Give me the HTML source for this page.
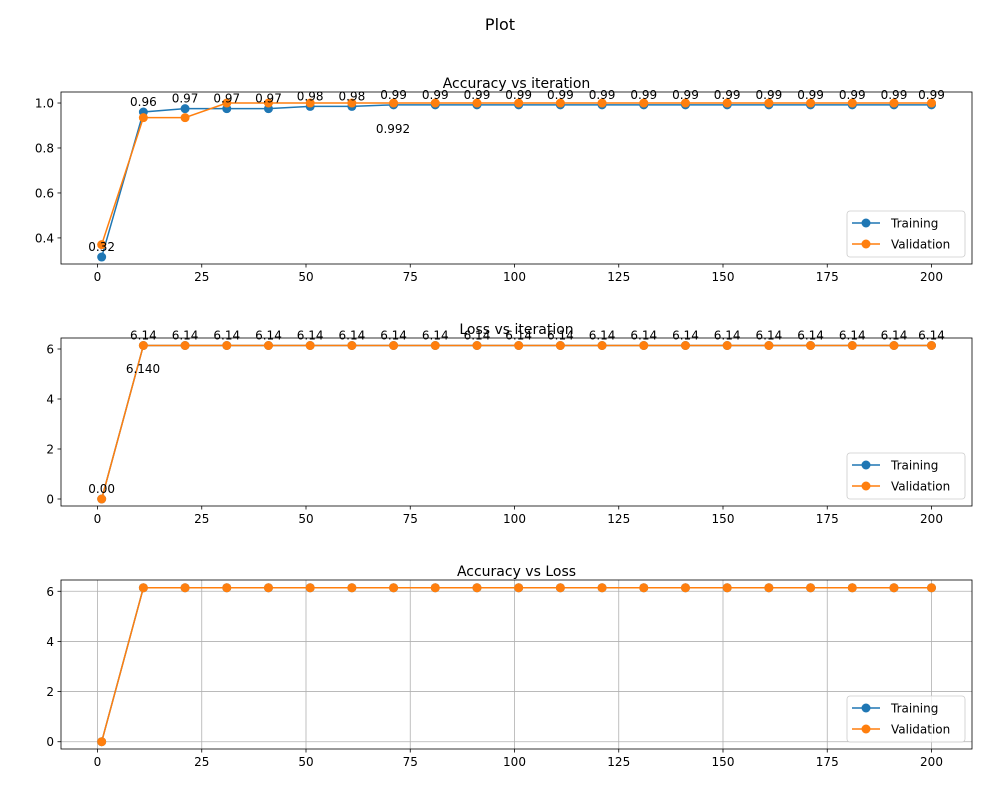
<!DOCTYPE html>
<html><head><meta charset="utf-8"><style>
body{margin:0;background:#fff}
svg{display:block;font-family:"DejaVu Sans","Liberation Sans",sans-serif}
</style></head><body>
<svg id="fig" width="1000" height="800" viewBox="0 0 1000 800">
<rect width="1000" height="800" fill="#fff"/>
<text x="500" y="30" font-size="16" text-anchor="middle">Plot</text>
</svg>
<script>
const iterations=[1,11,21,31,41,51,61,71,81,91,101,111,121,131,141,151,161,171,181,191,200];
const accTrain=[0.315,0.96,0.975,0.975,0.975,0.985,0.985,0.992,0.992,0.992,0.992,0.992,0.992,0.992,0.992,0.992,0.992,0.992,0.992,0.992,0.992];
const accVal=[0.37,0.935,0.935,1.0,1.0,1.0,1.0,1.0,1.0,1.0,1.0,1.0,1.0,1.0,1.0,1.0,1.0,1.0,1.0,1.0,1.0];
const lossTrain=[0,6.14,6.14,6.14,6.14,6.14,6.14,6.14,6.14,6.14,6.14,6.14,6.14,6.14,6.14,6.14,6.14,6.14,6.14,6.14,6.14];
const lossVal=[0,6.14,6.14,6.14,6.14,6.14,6.14,6.14,6.14,6.14,6.14,6.14,6.14,6.14,6.14,6.14,6.14,6.14,6.14,6.14,6.14];
const xTicks=[0,25,50,75,100,125,150,175,200];
const accYTicks=[0.4,0.6,0.8,1.0];
const lossYTicks=[0,2,4,6];

const NS='http://www.w3.org/2000/svg';
const svg=document.getElementById('fig');
function mk(tag,attrs,parent){const e=document.createElementNS(NS,tag);for(const k in attrs)e.setAttribute(k,attrs[k]);(parent||svg).appendChild(e);return e;}
const L=61,R=972;
function xs(v){return 97.5+(v)*4.17;}

function panel(cfg){
  const g=mk('g',{});
  
  
  const T=cfg.top,B=cfg.bottom;
  const ys=v=>T+(cfg.ymax-v)/(cfg.ymax-cfg.ymin)*(B-T);
  if(cfg.grid){
    xTicks.forEach(t=>{const l=mk('line',{x1:xs(t),x2:xs(t),y1:T,y2:B,stroke:'#b0b0b0','stroke-width':0.8},g);});
    cfg.yticks.forEach(t=>{const l=mk('line',{x1:L,x2:R,y1:ys(t),y2:ys(t),stroke:'#b0b0b0','stroke-width':0.8},g);});
  }
  xTicks.forEach(t=>{
    mk('line',{x1:xs(t),x2:xs(t),y1:B,y2:B+3.5,stroke:'#000','stroke-width':0.8},g);
    const tx=mk('text',{x:xs(t),y:B+17,'font-size':12,'text-anchor':'middle'},g);
    
    
    tx.textContent=t;
  });
  cfg.yticks.forEach(t=>{
    mk('line',{x1:L-3.5,x2:L,y1:ys(t),y2:ys(t),stroke:'#000','stroke-width':0.8},g);
    const tx=mk('text',{x:L-7,y:ys(t)+4.5,'font-size':12,'text-anchor':'end'},g);
    
    
    tx.textContent=cfg.fmt(t);
  });
  const series=[[cfg.train,'#1f77b4','training-series'],[cfg.val,'#ff7f0e','validation-series']];
  series.forEach(([d,c,n])=>{
    const sg=mk('g',{},g);
    
    
    mk('polyline',{points:d.map((v,i)=>xs(iterations[i])+','+ys(v)).join(' '),fill:'none',stroke:c,'stroke-width':1.5},sg);
    d.forEach((v,i)=>{const p=mk('circle',{cx:xs(iterations[i]),cy:ys(v),r:4.5,fill:c},sg);});
  });
  if(cfg.labels){
    cfg.train.forEach((v,i)=>{
      const tx=mk('text',{x:xs(iterations[i]),y:ys(v)-6,'font-size':12,'text-anchor':'middle'},g);
      
      
      tx.textContent=v.toFixed(2);
    });
    const e=mk('text',{x:cfg.extra[0],y:cfg.extra[1],'font-size':12,'text-anchor':'middle'},g);
    
    
    e.textContent=cfg.extra[2];
  }
  const fr=mk('rect',{x:L,y:T,width:R-L,height:B-T,fill:'none',stroke:'#000','stroke-width':0.8},g);
  
  
  const tt=mk('text',{x:(L+R)/2,y:T-4,'font-size':14,'text-anchor':'middle'},g);
  
  
  tt.textContent=cfg.title;
  const lg=mk('g',{},g);
  
  
  const ly=B-53;
  mk('rect',{x:847,y:ly,width:118,height:46,rx:3,fill:'#fff','fill-opacity':0.8,stroke:'#ccc','stroke-width':0.8},lg);
  [['Training','#1f77b4',12],['Validation','#ff7f0e',33]].forEach(([n,c,o])=>{
    mk('line',{x1:852,x2:880,y1:ly+o,y2:ly+o,stroke:c,'stroke-width':1.5},lg);
    mk('circle',{cx:866,cy:ly+o,r:4.5,fill:c},lg);
    const t=mk('text',{x:891,y:ly+o+4.5,'font-size':12},lg);
    
    
    t.textContent=n;
  });
}
panel({name:'accuracy-chart',title:'Accuracy vs iteration',top:92,bottom:264,ymin:0.284,ymax:1.049,yticks:accYTicks,fmt:v=>v.toFixed(1),train:accTrain,val:accVal,labels:true,extra:[393,133,'0.992']});
panel({name:'loss-chart',title:'Loss vs iteration',top:338,bottom:506,ymin:-0.28,ymax:6.44,yticks:lossYTicks,fmt:v=>v,train:lossTrain,val:lossVal,labels:true,extra:[143,373,'6.140']});
panel({name:'accuracy-loss-chart',title:'Accuracy vs Loss',top:580,bottom:749,ymin:-0.29,ymax:6.45,yticks:lossYTicks,fmt:v=>v,train:lossTrain,val:lossVal,labels:false,grid:true});
</script>
</body></html>
